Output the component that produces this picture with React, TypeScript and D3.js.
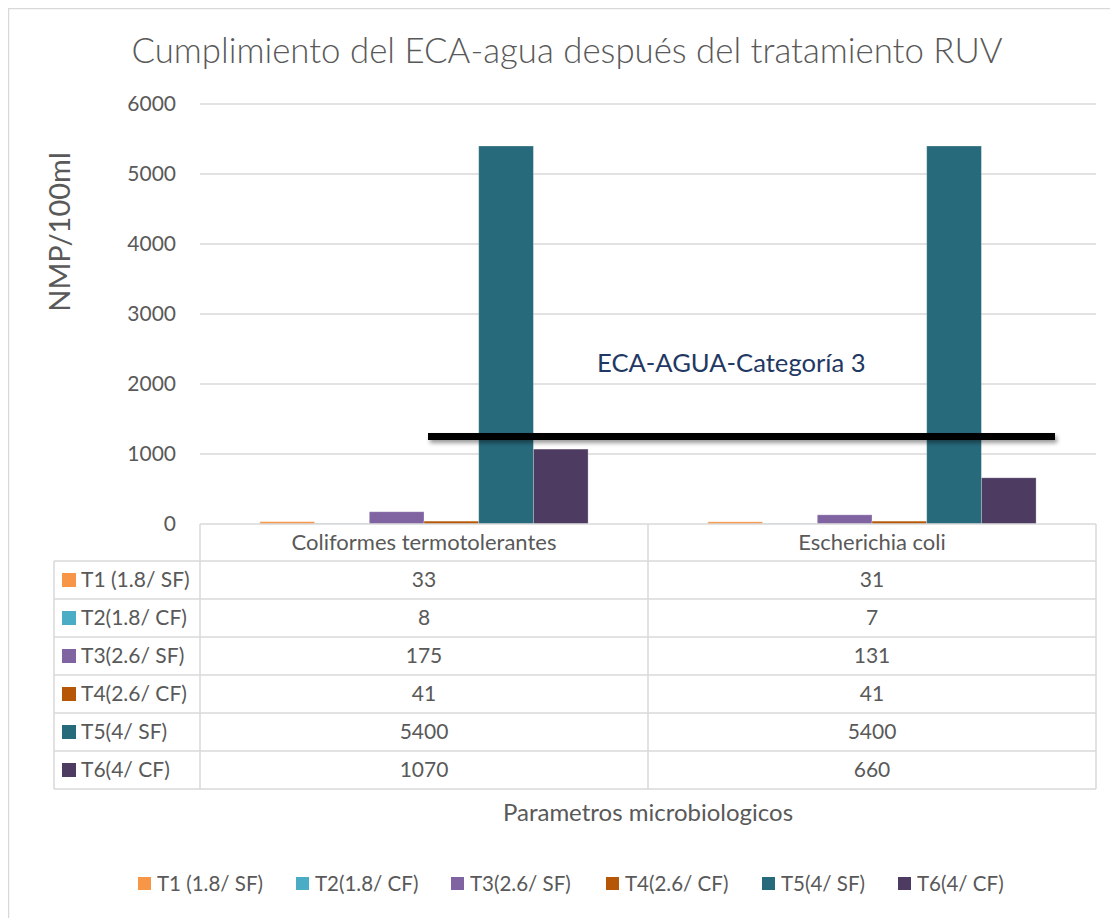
import React from "react";
import * as d3 from "d3";

const categories = ["Coliformes termotolerantes", "Escherichia coli"];
const seriesNames = ["T1 (1.8/ SF)", "T2(1.8/ CF)", "T3(2.6/ SF)", "T4(2.6/ CF)", "T5(4/ SF)", "T6(4/ CF)"];
const seriesColors = ["#f79646", "#4bacc6", "#8064a2", "#b65708", "#276a7c", "#4d3b62"];
const coliformes = [33, 8, 175, 41, 5400, 1070];
const ecoli = [31, 7, 131, 41, 5400, 660];
const seriesValues = [coliformes, ecoli];
const yTicks = [0, 1000, 2000, 3000, 4000, 5000, 6000];
const ecaLimit = 1250;
const ecaLabel = "ECA-AGUA-Categoría 3";
const title = "Cumplimiento del ECA-agua después del tratamiento RUV";
const yTitle = "NMP/100ml";
const xTitle = "Parametros microbiologicos";

const FONT = "Lato, 'Open Sans', sans-serif";
const TXT = "#595959";
const GRID = "#d9d9d9";

export default function App() {
  const plotL = 200, plotR = 1096, plotT = 104, plotB = 524;
  const y = d3.scaleLinear().domain([0, 6000]).range([plotB, plotT]);
  const x0 = d3.scaleBand<string>().domain(categories).range([plotL, plotR]).padding(0);
  const x1 = d3.scaleBand<string>().domain(seriesNames).range([0, x0.bandwidth()]).paddingInner(0).paddingOuter(1.095);
  const rowH = 38;
  const headerTop = plotB;
  const tableLeft = 54;
  const rowsTop = headerTop + 37;
  const tableBottom = rowsTop + rowH * seriesNames.length;

  const legendX = [138, 296, 451, 606, 762, 898];
  const ecaY = y(ecaLimit);

  return (
    <svg width={1110} height={910} style={{ display: "block", overflow: "visible" }} fontFamily={FONT}>
      <defs>
        <filter id="shadow" filterUnits="userSpaceOnUse" x={400} y={400} width={700} height={80}>
          <feDropShadow dx="2" dy="3" stdDeviation="2" floodColor="#000" floodOpacity="0.4" />
        </filter>
      </defs>
      <g transform="translate(-8,-8)">
        <rect x={8.5} y={8.5} width={1120} height={920} fill="#fff" stroke={GRID} strokeWidth={1.5} />
        <text x={567} y={63} textAnchor="middle" fontSize={34.8} fontWeight={300} fill={TXT}>{title}</text>

        {/* gridlines */}
        {yTicks.map((t) => (
          <g key={t}>
            {t > 0 && <line x1={plotL} x2={plotR} y1={y(t)} y2={y(t)} stroke={GRID} strokeWidth={1.5} />}
            <text x={176} y={y(t)} dy="0.35em" textAnchor="end" fontSize={21} fill={TXT}>{t}</text>
          </g>
        ))}
        <text transform={`translate(70,232) rotate(-90)`} textAnchor="middle" fontSize={29} fill={TXT}>{yTitle}</text>

        {/* bars */}
        {categories.map((c, ci) => (
          <g key={c} transform={`translate(${x0(c)},0)`}>
            {seriesNames.map((s, si) => {
              const v = seriesValues[ci][si];
              return (
                <rect key={s} x={x1(s)} y={y(v)} width={x1.bandwidth()} height={plotB - y(v)} fill={seriesColors[si]} stroke="#fff" strokeOpacity={0.35} strokeWidth={0.8} />
              );
            })}
          </g>
        ))}

        {/* ECA line */}
        <rect x={428} y={ecaY - 3.5} width={1055 - 428} height={7} fill="#000" filter="url(#shadow)" />
        <text x={597} y={372} fontSize={25.6} fill="#1f3864">{ecaLabel}</text>

        {/* data table */}
        <g stroke={GRID} strokeWidth={1.5} fill="none">
          <line x1={plotL} x2={plotR} y1={headerTop} y2={headerTop} />
          {seriesNames.map((s, i) => (
            <line key={s} x1={tableLeft} x2={plotR} y1={rowsTop + i * rowH} y2={rowsTop + i * rowH} />
          ))}
          <line x1={tableLeft} x2={plotR} y1={tableBottom} y2={tableBottom} />
          <line x1={tableLeft} x2={tableLeft} y1={rowsTop} y2={tableBottom} />
          <line x1={plotL} x2={plotL} y1={headerTop} y2={tableBottom} />
          {categories.map((c) => (
            <line key={c} x1={(x0(c) as number) + x0.bandwidth()} x2={(x0(c) as number) + x0.bandwidth()} y1={headerTop} y2={tableBottom} />
          ))}
        </g>
        {categories.map((c) => (
          <text key={c} x={(x0(c) as number) + x0.bandwidth() / 2} y={(headerTop + rowsTop) / 2} dy="0.35em" textAnchor="middle" fontSize={22} fill={TXT}>{c}</text>
        ))}
        {seriesNames.map((s, si) => {
          const cy = rowsTop + si * rowH + rowH / 2;
          return (
            <g key={s}>
              <rect x={62} y={cy - 7} width={14} height={14} fill={seriesColors[si]} />
              <text x={81} y={cy} dy="0.35em" fontSize={21} fill={TXT}>{s}</text>
              {categories.map((c, ci) => (
                <text key={c} x={(x0(c) as number) + x0.bandwidth() / 2} y={cy} dy="0.35em" textAnchor="middle" fontSize={21} fill={TXT}>{seriesValues[ci][si]}</text>
              ))}
            </g>
          );
        })}
        <text x={648} y={813} dy="0.35em" textAnchor="middle" fontSize={24} fill={TXT}>{xTitle}</text>

        {/* legend */}
        {seriesNames.map((s, i) => (
          <g key={s}>
            <rect x={legendX[i]} y={877} width={13} height={13} fill={seriesColors[i]} />
            <text x={legendX[i] + 19} y={884} dy="0.35em" fontSize={20.5} fill={TXT}>{s}</text>
          </g>
        ))}
      </g>
    </svg>
  );
}
